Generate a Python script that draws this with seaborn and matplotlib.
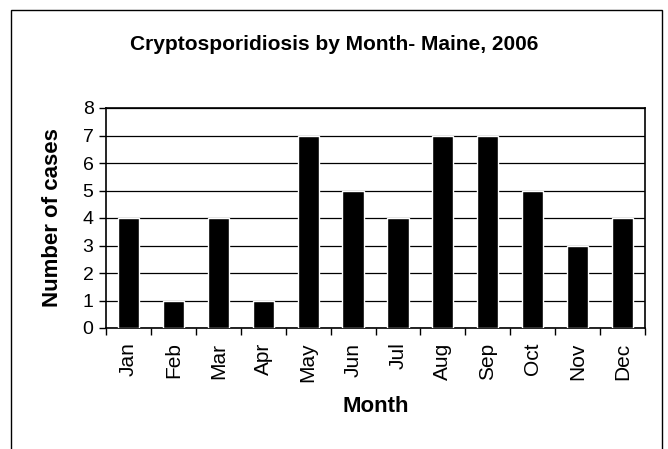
import matplotlib

matplotlib.use("Agg")

import matplotlib.pyplot as plt
import numpy as np
import pandas as pd
import seaborn as sns
from matplotlib.patches import Rectangle

months = ["Jan", "Feb", "Mar", "Apr", "May", "Jun",
          "Jul", "Aug", "Sep", "Oct", "Nov", "Dec"]
cases = [4, 1, 4, 1, 7, 5, 4, 7, 7, 5, 3, 4]
y_ticks = [0, 1, 2, 3, 4, 5, 6, 7, 8]

sns.set_style("white")
plt.rcParams["font.family"] = ["Liberation Sans", "DejaVu Sans"]
plt.rcParams.update({
    "text.color": "black",
    "axes.labelcolor": "black",
    "xtick.color": "black",
    "ytick.color": "black",
})

df = pd.DataFrame({"month": months, "cases": cases})

W, H = 668, 449
fig = plt.figure(figsize=(W / 100, H / 100), dpi=100)
ax = fig.add_axes([106 / W, 1 - 328 / H, (645 - 106) / W, (328 - 108) / H])

# outer chart border (bottom edge runs off the image)
fig.patches.append(Rectangle((11 / W, -0.05), (662 - 11) / W, 1 - 10 / H + 0.05,
                             transform=fig.transFigure, fill=False,
                             edgecolor="black", linewidth=1.0))

sns.barplot(data=df, x="month", y="cases", color="black", width=0.47,
            saturation=1, ax=ax, zorder=3)

ax.set_xlim(-0.5, len(months) - 0.5)
ax.set_ylim(0, 8)
ax.set_yticks(y_ticks)
ax.yaxis.grid(True, color="black", linewidth=0.9)
ax.set_axisbelow(True)

for spine in ax.spines.values():
    spine.set_visible(True)
    spine.set_color("black")
    spine.set_linewidth(1.2)

ax.tick_params(axis="y", which="major", direction="out", length=5, width=1,
               labelsize=14, pad=4, left=True)
ax.tick_params(axis="x", which="major", length=0, labelsize=15, pad=10.5)
ax.set_xticks(np.arange(len(months) + 1) - 0.5, minor=True)
ax.tick_params(axis="x", which="minor", direction="out", length=5, width=1, bottom=True)
ax.set_xticklabels(months, rotation=90)

ax.set_xlabel("Month", fontsize=16, fontweight="bold")
ax.set_ylabel("Number of cases", fontsize=16, fontweight="bold")
ax.xaxis.set_label_coords(0.5, (328 - 396) / (328 - 108))
ax.yaxis.set_label_coords((63 - 106) / (645 - 106), 0.5)
fig.text(334 / W, 1 - 45 / H, "Cryptosporidiosis by Month- Maine, 2006",
         ha="center", va="center", fontsize=15, fontweight="bold")

fig.savefig("out.png", dpi=100)
